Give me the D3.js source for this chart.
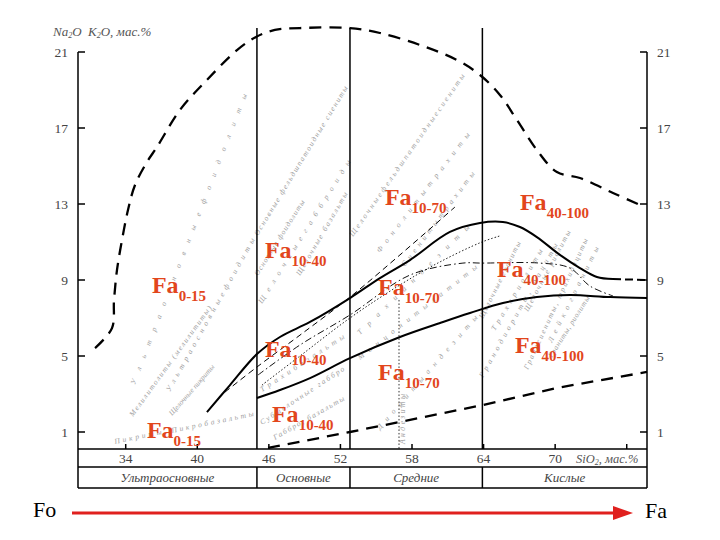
<!DOCTYPE html>
<html><head><meta charset="utf-8">
<script src="https://cdn.jsdelivr.net/npm/d3@7"></script>
<style>body{margin:0;background:#fff}svg{display:block}</style>
</head><body>
<svg id="c" width="720" height="540"></svg>
<script>
// ---------- data ----------
const yTicks = [1, 5, 9, 13, 17, 21];
const xTicks = [34, 40, 46, 52, 58, 64, 70, 76];
const xTickLabels = ["34", "40", "46", "52", "58", "64", "70", ""];
const boundaries = [45, 52.8, 63.9];
const groupNames = ["Ультраосновные", "Основные", "Средние", "Кислые"];
const groupEdges = [30, 45, 52.8, 63.9, 77.7];

const outerDashed = [[31.43,5.42],[32.85,6.47],[33.02,7.95],[33.27,9.53],[33.69,11.11],[34.19,12.68],[34.78,14.0],[35.78,15.21],[36.62,16.0],[38.55,17.95],[40.81,19.53],[43.33,21.1],[44.92,21.79],[46.51,22.16],[48.61,22.26],[52.8,22.26],[55.31,22.0],[58.67,21.37],[61.77,20.58],[63.7,19.79],[65.37,18.74],[66.8,17.42],[68.47,15.84],[70.15,14.68],[72.08,14.37],[74.85,13.58],[77.11,12.95]];
const lowerDashed = [[45.93,0.16],[52.8,1.0],[56.99,1.53],[63.95,2.42],[70.15,3.32],[77.7,4.16]];
const upperSolid = [[40.81,2.05],[42.74,3.47],[45.0,5.1],[46.93,6.0],[49.45,6.79],[52.8,8.05],[55.31,9.1],[57.83,10.05],[61.18,11.53],[63.7,12.0],[65.62,12.05],[67.05,11.79],[68.47,11.26],[70.4,10.32],[72.08,9.63],[73.5,9.16],[74.85,9.05]];
const upperTail = [[74.85,9.05],[77.7,9.0]];
const middleSolid = [[45.0,2.79],[46.93,3.21],[49.45,3.84],[52.8,4.89],[56.99,6.0],[60.6,6.79],[62.86,7.26],[65.62,7.79],[68.47,8.1],[71.24,8.21],[74.6,8.1],[77.7,8.05]];
const thinDashed = [[42.32,3.1],[45.0,4.42],[48.61,6.1],[52.8,8.1],[56.99,10.32],[61.6,12.84]];
const thinDotted = [[45.42,3.47],[48.61,5.0],[52.8,7.0],[56.99,8.74],[60.34,9.95],[63.86,11.0],[65.37,11.32]];
const thinDashDot = [[45.09,4.0],[48.61,5.58],[52.8,7.16],[57.83,9.26],[62.27,9.89],[63.86,9.89],[68.73,9.89],[71.24,9.63],[72.92,8.68],[74.85,8.16]];
const andesiteDotted = [[56.91,7.95],[56.91,0.1]];

const faSubs = ["0-15","0-15","10-40","10-40","10-40","10-70","10-70","10-70","40-100","40-100","40-100"];
const faX = [36.2,35.78,45.67,45.67,46.26,55.73,55.15,55.15,67.05,65.12,66.63];
const faY = [8.32,0.68,10.16,4.95,1.53,12.95,8.21,3.74,12.68,9.16,5.16];

// faint rock names: text, start [x,y], end [x,y] (data units)
const rockNames = ["У л ь т р а о с н о в н ы е   ф о и д о л и т ы","Мелилитолиты (мелилититы)","У л ь т р а о с н о в н ы е  ф о и д и т ы","Щелочные пикриты","П и к р о б а з а л ь т ы","П и к р и т ы",
 "Основные фельдшпатоидные сиениты","Основные фоидолиты","Щ е л о ч н ы е  г а б б р о и д ы","Щелочные базальты","Т р а х и б а з а л ь т ы","Субщелочные габбро","Габбро, базальты",
 "Щ е л о ч н ы е   ф е л ь д ш п а т о и д н ы е   с и е н и т ы","Ф о н о л и т ы   т р а х и т ы","С и е н и т ы   т р а х и т ы","Т р а х и а н д е з и т ы","М о н ц о н и т ы   л а т и т ы","Д и о р и т ы   а н д е з и т ы","Андезиты",
 "Щелочные граниты","Трахириолиты","Гранодиориты, дациты","Граносиениты, трахидациты","Щелочные риолиты","Лейкограниты","Граниты, риолиты"];
const rockStart = [[34.78,3.47],[34.61,1.79],[37.71,3.1],[37.88,1.84],[37.88,0.95],[33.1,0.37],
 [45.09,11.32],[45.09,9.21],[45.42,7.74],[48.61,9.21],[45.42,3.1],[45.42,1.37],[46.51,0.58],
 [53.05,11.26],[55.31,10.42],[57.4,9.68],[53.64,6.1],[53.64,4.79],[55.31,1.11],[57.4,0.37],
 [63.95,6.95],[64.96,6.31],[63.95,3.84],[67.72,4.26],[67.72,7.32],[69.73,5.68],[69.73,4.89]];
const rockEnd = [[44.17,18.74],[41.23,7.53],[44.84,11.11],[41.48,4.42],[44.75,1.84],[37.04,0.89],
 [52.63,19.11],[49.03,13.11],[52.88,15.21],[52.63,13.53],[52.38,5.95],[52.38,4.26],[52.38,2.68],
 [62.44,19.74],[62.86,16.63],[63.28,14.58],[62.86,11.74],[63.52,9.63],[63.52,7.0],[57.4,3.0],
 [67.13,10.95],[68.98,10.53],[70.24,10.84],[72.75,11.11],[71.32,11.53],[73.67,10.68],[72.92,8.05]];

// ---------- drawing ----------
const svg = d3.select("#c");
const x = d3.scaleLinear().domain([30, 77.7]).range([78, 647]);
const y = d3.scaleLinear().domain([1, 21]).range([432, 52]);
const plotTop = 28, plotBottom = 449, rowMid = 467, rowBottom = 488;
const serif = "'Liberation Serif','Times New Roman',serif";

const line = d3.line().x(d => x(d[0])).y(d => y(d[1]));
const curve = d3.line().x(d => x(d[0])).y(d => y(d[1])).curve(d3.curveCatmullRom.alpha(0.5));

// faint rock names
const rg = svg.append("g").attr("font-family", serif).attr("font-style", "italic")
  .attr("font-size", 7.5).attr("fill", "#9e9e9e");
rockNames.forEach((t, i) => {
  const x0 = x(rockStart[i][0]), y0 = y(rockStart[i][1]);
  const x1 = x(rockEnd[i][0]), y1 = y(rockEnd[i][1]);
  const ang = Math.atan2(y1 - y0, x1 - x0) * 180 / Math.PI;
  const len = Math.hypot(x1 - x0, y1 - y0);
  rg.append("text").attr("transform", `translate(${x0},${y0}) rotate(${ang})`)
    .attr("textLength", len).attr("lengthAdjust", "spacing").text(t);
});

// curves
svg.append("path").attr("d", curve(outerDashed)).attr("fill", "none").attr("stroke", "#000")
  .attr("stroke-width", 2.3).attr("stroke-dasharray", "12,8");
svg.append("path").attr("d", line(lowerDashed)).attr("fill", "none").attr("stroke", "#000")
  .attr("stroke-width", 2.3).attr("stroke-dasharray", "12,8");
svg.append("path").attr("d", curve(upperSolid)).attr("fill", "none").attr("stroke", "#000").attr("stroke-width", 2);
svg.append("path").attr("d", line(upperTail)).attr("fill", "none").attr("stroke", "#000").attr("stroke-width", 2).attr("stroke-dasharray", "8,4");
svg.append("path").attr("d", curve(middleSolid)).attr("fill", "none").attr("stroke", "#000").attr("stroke-width", 2);
svg.append("path").attr("d", curve(thinDashed)).attr("fill", "none").attr("stroke", "#000").attr("stroke-width", 1).attr("stroke-dasharray", "6,4");
svg.append("path").attr("d", curve(thinDotted)).attr("fill", "none").attr("stroke", "#222").attr("stroke-width", 1).attr("stroke-dasharray", "1.5,2");
svg.append("path").attr("d", curve(thinDashDot)).attr("fill", "none").attr("stroke", "#111").attr("stroke-width", 1).attr("stroke-dasharray", "7,3,1.5,3");
svg.append("path").attr("d", line(andesiteDotted)).attr("fill", "none").attr("stroke", "#333").attr("stroke-width", 1).attr("stroke-dasharray", "1.5,2");

// boundaries
boundaries.forEach(b => {
  svg.append("line").attr("x1", x(b)).attr("x2", x(b)).attr("y1", plotTop).attr("y2", plotBottom)
    .attr("stroke", "#000").attr("stroke-width", 1.5);
  svg.append("line").attr("x1", x(b)).attr("x2", x(b)).attr("y1", rowMid).attr("y2", rowBottom)
    .attr("stroke", "#000").attr("stroke-width", 1.5);
});

// frame / table
const L = x(30), R = x(77.7);
svg.append("line").attr("x1", L).attr("x2", L).attr("y1", y(21)).attr("y2", rowBottom).attr("stroke", "#000").attr("stroke-width", 1.5);
svg.append("line").attr("x1", R).attr("x2", R).attr("y1", y(21)).attr("y2", rowBottom).attr("stroke", "#000").attr("stroke-width", 1.5);
[plotBottom, rowMid, rowBottom].forEach(v => svg.append("line").attr("x1", L).attr("x2", R).attr("y1", v).attr("y2", v).attr("stroke", "#000").attr("stroke-width", 1.5));

// y ticks
yTicks.forEach(t => {
  svg.append("line").attr("x1", L).attr("x2", L + 7).attr("y1", y(t)).attr("y2", y(t)).attr("stroke", "#000").attr("stroke-width", 1.5);
  svg.append("line").attr("x1", R - 7).attr("x2", R).attr("y1", y(t)).attr("y2", y(t)).attr("stroke", "#000").attr("stroke-width", 1.5);
  svg.append("text").attr("x", 68).attr("y", y(t) + 4.5).attr("text-anchor", "end").attr("font-family", serif).attr("font-size", 13.5).attr("fill", "#444").text(t);
  svg.append("text").attr("x", 657).attr("y", y(t) + 4.5).attr("font-family", serif).attr("font-size", 13.5).attr("fill", "#444").text(t);
});
svg.append("text").attr("x", 53).attr("y", 36).attr("font-family", serif).attr("font-style", "italic").attr("font-size", 13).attr("fill", "#555")
  .html("Na<tspan font-size='8' dy='2'>2</tspan><tspan dy='-2'>O&#160;&#160;K</tspan><tspan font-size='8' dy='2'>2</tspan><tspan dy='-2'>O, мас.%</tspan>");

// x ticks
xTicks.forEach((t, i) => {
  svg.append("line").attr("x1", x(t)).attr("x2", x(t)).attr("y1", plotBottom).attr("y2", plotBottom - 5).attr("stroke", "#000").attr("stroke-width", 1.5);
  if (xTickLabels[i]) svg.append("text").attr("x", x(t)).attr("y", 463).attr("text-anchor", "middle").attr("font-family", serif).attr("font-size", 13.5).attr("fill", "#444").text(xTickLabels[i]);
});
svg.append("text").attr("x", 576).attr("y", 463).attr("font-family", serif).attr("font-style", "italic").attr("font-size", 12.5).attr("fill", "#555")
  .html("SiO<tspan font-size='8' dy='2'>2</tspan><tspan dy='-2'>, мас.%</tspan>");

// group names
groupNames.forEach((g, i) => {
  svg.append("text").attr("x", (x(groupEdges[i]) + x(groupEdges[i + 1])) / 2).attr("y", 482).attr("text-anchor", "middle")
    .attr("font-family", serif).attr("font-style", "italic").attr("font-size", 13).attr("fill", "#444").text(g);
});

// Fa labels
faSubs.forEach((s, i) => {
  const t = svg.append("text").attr("x", x(faX[i])).attr("y", y(faY[i])).attr("font-family", serif)
    .attr("font-weight", "bold").attr("font-size", 24).attr("fill", "#e2461c");
  t.append("tspan").text("Fa");
  t.append("tspan").attr("font-size", 15).attr("dy", 8).text(s);
});

// bottom arrow
svg.append("text").attr("x", 33).attr("y", 517).attr("font-family", serif).attr("font-size", 22).attr("fill", "#000").text("Fo");
svg.append("text").attr("x", 645).attr("y", 518).attr("font-family", serif).attr("font-size", 22).attr("fill", "#000").text("Fa");
svg.append("line").attr("x1", 72).attr("x2", 616).attr("y1", 513).attr("y2", 513).attr("stroke", "#e0201e").attr("stroke-width", 3);
svg.append("path").attr("d", "M613,506 L633,513 L613,520 Z").attr("fill", "#e0201e");
</script>
</body></html>
